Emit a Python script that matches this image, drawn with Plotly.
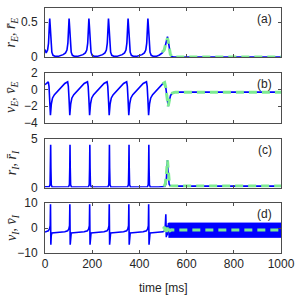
import plotly.graph_objects as go
from plotly.subplots import make_subplots

# ---------------- data ----------------
E_SPIKES = [20, 102, 186, 269, 352, 436]      # ms, excitatory bursts
I_SPIKES = [24, 106, 190, 273, 356, 440]      # ms, inhibitory bursts

# one burst waveform: offset from spike (ms) -> value
RE_OFF = [-25, -15, -9, -5, -2, 0, 2, 5, 9, 14, 22, 35]
RE_VAL = [0.035, 0.06, 0.1, 0.2, 0.42, 0.55, 0.45, 0.2, 0.07, 0.025, 0.012, 0.01]
VE_OFF = [-6, -3, 0, 3, 7, 12, 20, 32, 48, 64]
VE_VAL = [0.95, 0.4, -1.2, -3.1, -1.7, -1.0, -0.6, -0.2, 0.3, 0.75]
RI_OFF = [-6, -2.5, -1, 0, 1, 2.5, 6]
RI_VAL = [0.08, 0.3, 2.0, 4.4, 2.0, 0.3, 0.06]
VI_OFF = [-10, -5, -2, -0.7, 0.8, 2.5, 5, 15, 40, 60]
VI_VAL = [-1.1, -0.3, 1.0, 9.5, -6.7, -3.0, -2.0, -1.9, -1.8, -1.5]

# initial values at t = 0
RE_START, VE_START, RI_START, VI_START = 0.11, 0.6, 0.08, -1.6

# transition after the last burst (blue, full model)
RE_TAIL_T = [485, 497, 505, 511, 516, 519, 522, 526, 531, 537, 545, 1000]
RE_TAIL_V = [0.03, 0.06, 0.1, 0.18, 0.26, 0.29, 0.24, 0.12, 0.04, 0.01, 0.0, 0.0]
VE_TAIL_T = [507, 512, 517, 522, 527, 532, 540, 552, 1000]
VE_TAIL_V = [0.85, 0.2, -0.9, -2.0, -1.3, -0.7, -0.4, -0.3, -0.3]
RI_TAIL_T = [480, 508, 513, 516, 519, 522, 526, 532, 1000]
RI_TAIL_V = [0.06, 0.1, 0.4, 1.5, 2.8, 1.4, 0.35, 0.15, 0.15]
VI_TAIL_T = [505, 509, 512, 514, 517, 520, 523]
VI_TAIL_V = [-1.2, -0.5, 5.5, -3.7, 1.0, -3.0, 2.0]
# fast oscillation band of v_I
VI_BAND_T = [523, 1000]
VI_BAND_HI = [2.0, 2.0]
VI_BAND_LO = [-3.7, -3.7]

# reduced model (green dashed)
RE_BAR_T = [496, 505, 511, 516, 519, 522, 526, 531, 537, 545, 1000]
RE_BAR_V = [0.07, 0.1, 0.18, 0.25, 0.27, 0.23, 0.12, 0.04, 0.01, 0.0, 0.0]
VE_BAR_T = [498, 507, 512, 517, 522, 527, 532, 540, 552, 1000]
VE_BAR_V = [0.7, 0.85, 0.2, -0.9, -2.0, -1.3, -0.7, -0.4, -0.3, -0.3]
RI_BAR_T = [504, 510, 515, 519, 523, 527, 533, 545, 1000]
RI_BAR_V = [0.1, 0.4, 1.6, 2.8, 1.6, 0.5, 0.17, 0.15, 0.15]
VI_BAR_T = [502, 506, 509, 512, 515, 518, 521, 525, 530, 537, 545, 1000]
VI_BAR_V = [-0.3, 0.5, -1.3, 0.3, -1.6, 0.2, -1.5, -0.4, -1.1, -0.7, -0.8, -0.8]

X_TICKS = [0, 200, 400, 600, 800, 1000]
Y_TICKS = [[0, 0.5], [-4, -2, 0, 2], [0, 5], [-10, 0, 10]]
Y_RANGES = [[0, 0.7], [-4, 2], [0, 5], [-10, 10]]
Y_LABELS = ["<i>r<sub>E</sub></i>, <i>r\u0304<sub>E</sub></i>",
            "<i>v<sub>E</sub></i>, <i>v\u0304<sub>E</sub></i>",
            "<i>r<sub>I</sub></i>, <i>r\u0304<sub>I</sub></i>",
            "<i>v<sub>I</sub></i>, <i>v\u0304<sub>I</sub></i>"]
PANEL_TAGS = ["(a)", "(b)", "(c)", "(d)"]


def build(spikes, off, val, start, tail_t, tail_v):
    ts, vs = [0], [start]
    for s in spikes:
        for o, v in zip(off, val):
            t = s + o
            if t > ts[-1]:
                ts.append(t)
                vs.append(v)
    for t, v in zip(tail_t, tail_v):
        if t > ts[-1]:
            ts.append(t)
            vs.append(v)
    return ts, vs


blue_series = [
    build(E_SPIKES, RE_OFF, RE_VAL, RE_START, RE_TAIL_T, RE_TAIL_V),
    build(E_SPIKES, VE_OFF, VE_VAL, VE_START, VE_TAIL_T, VE_TAIL_V),
    build(I_SPIKES, RI_OFF, RI_VAL, RI_START, RI_TAIL_T, RI_TAIL_V),
    build(I_SPIKES, VI_OFF, VI_VAL, VI_START, VI_TAIL_T, VI_TAIL_V),
]
green_series = [(RE_BAR_T, RE_BAR_V), (VE_BAR_T, VE_BAR_V),
                (RI_BAR_T, RI_BAR_V), (VI_BAR_T, VI_BAR_V)]

BLUE = "#0000FF"
GREEN = "rgb(125,235,145)"
AX = "#4d4d4d"

fig = make_subplots(rows=4, cols=1, shared_xaxes=True)

for i in range(4):
    r = i + 1
    if i == 3:
        fig.add_trace(go.Scatter(x=VI_BAND_T, y=VI_BAND_LO, mode="lines",
                                 line=dict(color=BLUE, width=1), showlegend=False),
                      row=r, col=1)
        fig.add_trace(go.Scatter(x=VI_BAND_T, y=VI_BAND_HI, mode="lines", fill="tonexty",
                                 fillcolor=BLUE, line=dict(color=BLUE, width=1),
                                 showlegend=False), row=r, col=1)
    bt, bv = blue_series[i]
    fig.add_trace(go.Scatter(x=bt, y=bv, mode="lines",
                             line=dict(color=BLUE, width=1.6), showlegend=False),
                  row=r, col=1)
    gt, gv = green_series[i]
    fig.add_trace(go.Scatter(x=gt, y=gv, mode="lines",
                             line=dict(color=GREEN, width=3, dash="8px,5px"),
                             showlegend=False), row=r, col=1)

W, H = 296, 297
ML, MR, MT, MB = 45, 15, 1, 44
ph = H - MT - MB
# panel top/bottom pixel rows
PANELS = [(1, 51.5), (68, 119), (135.7, 185.7), (201.7, 253)]
domains = [[(H - MB - b) / ph, (H - MB - t) / ph] for t, b in PANELS]

axis_common = dict(showline=True, mirror="ticks", linecolor=AX, linewidth=1,
                   ticks="inside", ticklen=3, tickcolor=AX, showgrid=False,
                   zeroline=False, tickfont=dict(family="Liberation Sans, Arial", size=12,
                                                 color="#262626"))
for i in range(4):
    xa = "xaxis" if i == 0 else f"xaxis{i+1}"
    ya = "yaxis" if i == 0 else f"yaxis{i+1}"
    fig.layout[xa].update(range=[0, 1000], tickvals=X_TICKS,
                          showticklabels=(i == 3), **axis_common)
    fig.layout[ya].update(range=Y_RANGES[i], tickvals=Y_TICKS[i],
                          domain=[max(0, domains[i][0]), min(1, domains[i][1])],
                          ticklabelstandoff=4, **axis_common)
    yc = (domains[i][0] + domains[i][1]) / 2
    fig.add_annotation(text=Y_LABELS[i], xref="paper", yref="paper",
                       x=(12 - ML) / (W - ML - MR), y=yc, textangle=-90,
                       showarrow=False, xanchor="center", yanchor="middle",
                       font=dict(family="Liberation Serif", size=14, color="#262626"))
    fig.add_annotation(text=PANEL_TAGS[i], xref=f"x{'' if i == 0 else i+1} domain",
                       yref=f"y{'' if i == 0 else i+1} domain", x=0.97, y=0.78,
                       xanchor="right", yanchor="middle", showarrow=False,
                       font=dict(family="Liberation Sans, Arial", size=12, color="#262626"))

fig.add_annotation(text="time [ms]", xref="paper", yref="paper", x=0.5, y=-36 / ph,
                   xanchor="center", yanchor="middle", showarrow=False,
                   font=dict(family="Liberation Sans, Arial", size=12, color="#262626"))

fig.update_layout(width=W, height=H, margin=dict(l=ML, r=MR, t=MT, b=MB),
                  paper_bgcolor="white", plot_bgcolor="white", showlegend=False)

fig.write_html("out.html", config={"displayModeBar": False},
               post_script="document.body.style.margin='0';")
